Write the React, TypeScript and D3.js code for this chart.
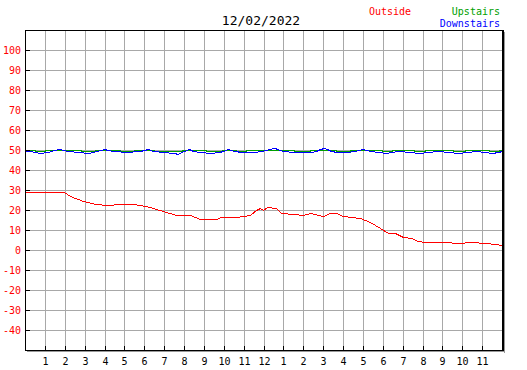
import React from 'react';
import * as d3 from 'd3';

// temperature readings, hour of day -> degrees
const outsideHours = [0, 1.96, 2.25, 2.9, 3.59, 4.1, 4.85, 5.42, 6.11, 6.93, 7.62, 8.29, 8.79, 9.63, 9.88, 10.64, 11.31, 11.6, 11.81, 11.96, 12.2, 12.65, 12.9, 13.49, 13.98, 14.33, 14.98, 15.33, 15.67, 15.99, 16.84, 17.35, 17.85, 18.25, 18.6, 19.02, 19.45, 19.7, 20.2, 21.02, 21.87, 22.38, 23.22, 24];
const outsideTemps = [28.8, 28.8, 27.2, 24.3, 22.8, 22.5, 23, 22.8, 21.8, 19.5, 17.7, 17.7, 15.3, 15.3, 16.3, 16.7, 17.5, 19.8, 21.2, 20, 21.3, 21.2, 18.5, 18, 17.5, 18.5, 17, 18.5, 18.5, 17, 16.2, 14.2, 10.8, 8.3, 8.3, 6.3, 5.8, 4.5, 3.8, 4.2, 3.3, 3.8, 3.3, 2.5];

const upstairsHours = [0, 0.45, 0.55, 0.95, 1.05, 2.75, 2.85, 3.45, 3.55, 4.75, 4.85, 5.45, 5.55, 6.45, 6.55, 7.85, 7.95, 9.05, 9.15, 9.85, 9.95, 10.55, 10.65, 11.05, 11.15, 13.5, 13.6, 14.3, 14.4, 15.6, 15.7, 16.3, 16.4, 17.9, 18.0, 18.4, 18.5, 19.5, 19.6, 20.1, 20.2, 21.5, 21.6, 22.1, 22.2, 23.3, 23.4, 23.8, 23.9, 24];
const upstairsTemps = [50, 50, 49.5, 49.5, 50, 50, 49.5, 49.5, 50, 50, 49.5, 49.5, 50, 50, 49.5, 49.5, 50, 50, 49.5, 49.5, 50, 50, 49.5, 49.5, 50, 50, 49.5, 49.5, 50, 50, 49.5, 49.5, 50, 50, 49.5, 49.5, 50, 50, 49.5, 49.5, 50, 50, 49.5, 49.5, 50, 50, 49.5, 49.5, 50, 50];

const downstairsHours = [0, 0.25, 0.77, 1.15, 1.45, 1.75, 1.9, 2.17, 2.68, 3.18, 3.43, 3.76, 4.03, 4.15, 4.48, 5.1, 5.77, 6.19, 6.45, 6.95, 7.5, 7.7, 7.83, 8.0, 8.25, 8.45, 8.83, 9.38, 9.76, 9.96, 10.22, 10.5, 10.9, 11.48, 11.9, 12.3, 12.56, 12.7, 13.0, 13.53, 14.0, 14.4, 14.62, 14.83, 15.06, 15.18, 15.38, 15.7, 16.17, 16.6, 16.97, 17.4, 17.77, 18.15, 18.43, 18.8, 19.32, 19.82, 20.28, 20.78, 21.29, 21.8, 22.25, 22.67, 23.13, 23.5, 23.82, 24];
const downstairsTemps = [49.5, 49.5, 48.3, 49, 49.8, 50.5, 49.8, 49.4, 48.8, 48.3, 49, 49.8, 50.3, 49.8, 49.4, 48.8, 49.6, 50.5, 49.7, 49, 48.5, 48.2, 49, 49.7, 50.5, 49.7, 49, 48.5, 49, 49.7, 50.5, 49.7, 49, 48.8, 49.5, 50.3, 50.8, 50.3, 49.7, 49.2, 48.8, 49.2, 49.7, 50.3, 50.8, 50.3, 49.7, 49.2, 48.8, 49.5, 50.3, 49.7, 49, 48.3, 49, 49.7, 49.2, 48.3, 49, 49.7, 49, 48.3, 49, 49.7, 49, 48.3, 49, 49.7];

const yTicks = [100, 90, 80, 70, 60, 50, 40, 30, 20, 10, 0, -10, -20, -30, -40];
const xTickLabels = ['1', '2', '3', '4', '5', '6', '7', '8', '9', '10', '11', '12', '1', '2', '3', '4', '5', '6', '7', '8', '9', '10', '11'];

const title = '12/02/2022';

const W = 527;
const H = 370;
const left = 25, right = 502, top = 30, bottom = 350;
const font = '"DejaVu Sans Mono", monospace';

const App = () => {
  const x = d3.scaleLinear().domain([0, 24]).range([left, right]);
  const y = d3.scaleLinear().domain([-50, 110]).range([bottom, top]);

  const mkLine = (hours: number[], temps: number[]) =>
    d3.line<number>()
      .x((_, i) => Math.round(x(hours[i])) + 0.5)
      .y(d => Math.round(y(d)) + 0.5)(temps) || '';

  const series = [
    { hours: upstairsHours, temps: upstairsTemps, color: '#00a000' },
    { hours: outsideHours, temps: outsideTemps, color: '#ff0000' },
    { hours: downstairsHours, temps: downstairsTemps, color: '#0000ff' },
  ];

  const grid = '#a8a8a8';

  return (
    <svg width={W} height={H} style={{ position: 'absolute', left: 0, top: 0, background: '#fff' }} fontFamily={font}>
      <rect x={0} y={0} width={W} height={H} fill="#fff" />

      {/* grid */}
      <g stroke={grid} strokeWidth={1} shapeRendering="crispEdges">
        {yTicks.map(t => (
          <line key={'h' + t} x1={left} x2={right} y1={Math.round(y(t)) + 0.5} y2={Math.round(y(t)) + 0.5} />
        ))}
        {xTickLabels.map((_, i) => (
          <line key={'v' + i} y1={top} y2={bottom} x1={Math.round(x(i + 1)) + 0.5} x2={Math.round(x(i + 1)) + 0.5} />
        ))}
      </g>

      {/* data */}
      <g fill="none" strokeWidth={1} shapeRendering="crispEdges">
        {series.map(s => (
          <path key={s.color} d={mkLine(s.hours, s.temps)} stroke={s.color} />
        ))}
      </g>

      {/* ticks */}
      <g stroke="#000" strokeWidth={1} shapeRendering="crispEdges">
        {yTicks.map(t => (
          <line key={'yt' + t} x1={left} x2={left + 5} y1={Math.round(y(t)) + 0.5} y2={Math.round(y(t)) + 0.5} />
        ))}
        {xTickLabels.map((_, i) => (
          <line key={'xt' + i} y1={bottom - 4} y2={bottom} x1={Math.round(x(i + 1)) + 0.5} x2={Math.round(x(i + 1)) + 0.5} />
        ))}
      </g>

      {/* frame with shadow */}
      <g shapeRendering="crispEdges">
        <line x1={right + 2.5} x2={right + 2.5} y1={top + 2} y2={bottom + 3} stroke="#999" />
        <line x1={left + 2} x2={right + 3} y1={bottom + 1.5} y2={bottom + 1.5} stroke="#999" />
        <rect x={left + 0.5} y={top + 0.5} width={right - left} height={bottom - top} fill="none" stroke="#000" />
        <line x1={right + 1.5} x2={right + 1.5} y1={top} y2={bottom + 1} stroke="#000" />
      </g>

      {/* axis labels */}
      <g fontSize={10} fill="#ff0000" textAnchor="end">
        {yTicks.map(t => (
          <text key={'yl' + t} x={left - 4} y={Math.round(y(t)) + 4}>{t}</text>
        ))}
      </g>
      <g fontSize={10} fill="#000" textAnchor="middle">
        {xTickLabels.map((l, i) => (
          <text key={'xl' + i} x={Math.round(x(i + 1)) + 0.5} y={365}>{l}</text>
        ))}
      </g>

      {/* title and legend */}
      <text x={261} y={25} fontSize={13} textAnchor="middle" fill="#000">{title}</text>
      <text x={369} y={15} fontSize={10} fill="#ff0000">Outside</text>
      <text x={500} y={15} fontSize={10} fill="#00a000" textAnchor="end">Upstairs</text>
      <text x={500} y={27} fontSize={10} fill="#0000ff" textAnchor="end">Downstairs</text>
    </svg>
  );
};

export default App;
